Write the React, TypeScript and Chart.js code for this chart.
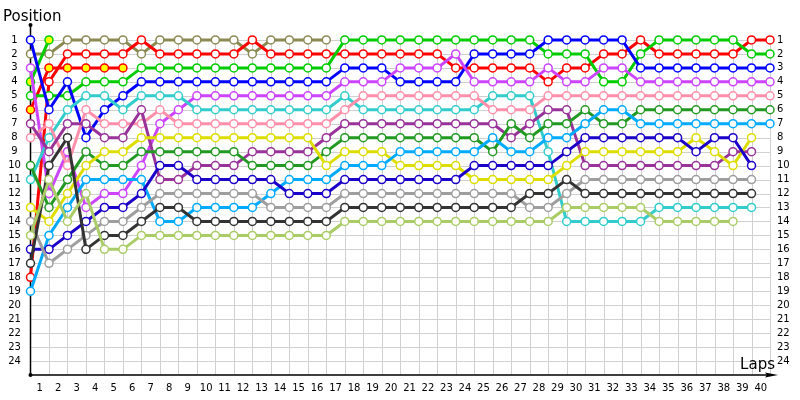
import React, { useEffect, useRef } from "react";
import { Chart, registerables } from "chart.js";

Chart.register(...registerables);

const _ = null;

// lap index 0 = start grid, 1..40 = laps
const laps = [0, 1, 2, 3, 4, 5, 6, 7, 8, 9, 10, 11, 12, 13, 14, 15, 16, 17, 18, 19, 20, 21, 22, 23, 24, 25, 26, 27, 28, 29, 30, 31, 32, 33, 34, 35, 36, 37, 38, 39, 40];
const lapTickLabels = ["1", "2", "3", "4", "5", "6", "7", "8", "9", "10", "11", "12", "13", "14", "15", "16", "17", "18", "19", "20", "21", "22", "23", "24", "25", "26", "27", "28", "29", "30", "31", "32", "33", "34", "35", "36", "37", "38", "39", "40"];
const positionTicks = [1, 2, 3, 4, 5, 6, 7, 8, 9, 10, 11, 12, 13, 14, 15, 16, 17, 18, 19, 20, 21, 22, 23, 24];

// positions per lap (index = lap 0..40)
const olive = [2, 2, 1, 1, 1, 1, 2, 1, 1, 1, 1, 1, 2, 1, 1, 1, 1, _, _, _, _, _, _, _, _, _, _, _, _, _, _, _, _, _, _, _, _, _, _, _, _];
const red = [18, 4, 2, 2, 2, 2, 1, 2, 2, 2, 2, 2, 1, 2, 2, 2, 2, 2, 2, 2, 2, 2, 2, 3, 3, 3, 3, 3, 4, 3, 3, 2, 2, 1, 2, 2, 2, 2, 2, 1, 1];
const redB = [6, 3, 3, 3, 3, 3, _, _, _, _, _, _, _, _, _, _, _, _, _, _, _, _, _, _, _, _, _, _, _, _, _, _, _, _, _, _, _, _, _, _, _];
const greenB = [4, 1, _, _, _, _, _, _, _, _, _, _, _, _, _, _, _, _, _, _, _, _, _, _, _, _, _, _, _, _, _, _, _, _, _, _, _, _, _, _, _];
const green = [5, 5, 5, 4, 4, 4, 3, 3, 3, 3, 3, 3, 3, 3, 3, 3, 3, 1, 1, 1, 1, 1, 1, 1, 1, 1, 1, 1, 2, 2, 2, 4, 4, 2, 1, 1, 1, 1, 1, 2, 2];
const blue = [1, 6, 4, 8, 6, 5, 4, 4, 4, 4, 4, 4, 4, 4, 4, 4, 4, 3, 3, 3, 4, 4, 4, 4, 2, 2, 2, 2, 1, 1, 1, 1, 1, 3, 3, 3, 3, 3, 3, 3, 3];
const violet = [3, 12, 9, 13, 12, 12, 10, 7, 6, 5, 5, 5, 5, 5, 5, 5, 5, 4, 4, 4, 3, 3, 3, 2, 4, 4, 4, 4, 3, 4, 4, 3, 3, 4, 4, 4, 4, 4, 4, 4, 4];
const purple = [7, 9, 7, 7, 8, 8, 6, 11, 11, 10, 10, 10, 9, 9, 9, 9, 8, 7, 7, 7, 7, 7, 7, 7, 7, 7, 8, 7, 6, 6, 10, 10, 10, 10, 10, 10, 10, 10, 9, 9, _];
const pink = [8, 7, 10, 6, 7, 7, 7, 6, 7, 7, 7, 7, 7, 7, 7, 7, 7, 6, 5, 5, 5, 5, 5, 5, 5, 6, 6, 6, 5, 5, 5, 5, 5, 5, 5, 5, 5, 5, 5, 5, 5];
const darkGreen = [10, 13, 11, 9, 10, 10, 9, 9, 9, 9, 9, 9, 10, 10, 10, 10, 9, 8, 8, 8, 8, 8, 8, 8, 8, 9, 7, 8, 7, 7, 6, 7, 7, 6, 6, 6, 6, 6, 6, 6, 6];
const cyan = [11, 8, 6, 5, 5, 6, 5, 5, 5, 6, 6, 6, 6, 6, 6, 6, 6, 5, 6, 6, 6, 6, 6, 6, 6, 5, 5, 5, 9, 14, 14, 14, 14, 14, 13, 13, 13, 13, 13, 13, _];
const yellow = [13, 14, 12, 10, 9, 9, 8, 8, 8, 8, 8, 8, 8, 8, 8, 8, 10, 9, 9, 9, 10, 10, 10, 10, 11, 11, 11, 11, 11, 10, 9, 9, 9, 9, 9, 9, 8, 9, 10, 8, _];
const gray = [14, 17, 16, 15, 14, 14, 13, 12, 12, 12, 12, 12, 12, 13, 13, 13, 13, 12, 12, 12, 12, 12, 12, 12, 12, 12, 12, 13, 13, 12, 11, 11, 11, 11, 11, 11, 11, 11, 11, 11, _];
const lightGreen = [15, 11, 14, 12, 16, 16, 15, 15, 15, 15, 15, 15, 15, 15, 15, 15, 15, 14, 14, 14, 14, 14, 14, 14, 14, 14, 14, 14, 14, 13, 13, 13, 13, 13, 14, 14, 14, 14, 14, _, _];
const navy = [16, 16, 15, 14, 13, 13, 12, 10, 10, 11, 11, 11, 11, 11, 12, 12, 12, 11, 11, 11, 11, 11, 11, 11, 10, 10, 10, 10, 10, 9, 8, 8, 8, 8, 8, 8, 9, 8, 8, 10, _];
const black = [17, 10, 8, 16, 15, 15, 14, 13, 13, 14, 14, 14, 14, 14, 14, 14, 14, 13, 13, 13, 13, 13, 13, 13, 13, 13, 13, 12, 12, 11, 12, 12, 12, 12, 12, 12, 12, 12, 12, 12, _];
const lightBlue = [19, 15, 13, 11, 11, 11, 11, 14, 14, 13, 13, 13, 13, 12, 11, 11, 11, 10, 10, 10, 9, 9, 9, 9, 9, 8, 9, 9, 8, 8, 7, 6, 6, 7, 7, 7, 7, 7, 7, 7, 7];

const seriesList = [
  { name: "lightGreen", data: lightGreen, color: "#aacc66", fill: "#ffffff" },
  { name: "black", data: black, color: "#333333", fill: "#ffffff" },
  { name: "gray", data: gray, color: "#9e9e9e", fill: "#ffffff" },
  { name: "navy", data: navy, color: "#1a00c8", fill: "#ffffff" },
  { name: "lightBlue", data: lightBlue, color: "#00aaff", fill: "#ffffff" },
  { name: "yellow", data: yellow, color: "#dddd00", fill: "#ffffff" },
  { name: "darkGreen", data: darkGreen, color: "#229922", fill: "#ffffff" },
  { name: "purple", data: purple, color: "#993399", fill: "#ffffff" },
  { name: "pink", data: pink, color: "#ff8faa", fill: "#ffffff" },
  { name: "cyan", data: cyan, color: "#33cccc", fill: "#ffffff" },
  { name: "violet", data: violet, color: "#cc44ff", fill: "#ffffff" },
  { name: "blue", data: blue, color: "#0000ff", fill: "#ffffff" },
  { name: "green", data: green, color: "#00cc00", fill: "#ffffff" },
  { name: "greenB", data: greenB, color: "#00cc00", fill: "#ffff00" },
  { name: "redB", data: redB, color: "#ff0000", fill: "#ffff00" },
  { name: "red", data: red, color: "#ff0000", fill: "#ffffff" },
  { name: "olive", data: olive, color: "#8b8a53", fill: "#ffffff" },
];

const FONT = "DejaVu Sans";

const decorPlugin = {
  id: "lapDecor",
  beforeDatasetsDraw(chart: any) {
    const { ctx } = chart;
    const xs = chart.scales.x;
    const ys = chart.scales.y;
    const x0 = xs.getPixelForValue(0);
    const xEnd = xs.getPixelForValue(laps.length - 1);
    const yTop = ys.getPixelForValue(1);
    const yBot = ys.getPixelForValue(25);
    ctx.save();
    ctx.strokeStyle = "#d0d0d0";
    ctx.lineWidth = 1;
    ctx.beginPath();
    positionTicks.forEach((p) => {
      const y = Math.round(ys.getPixelForValue(p)) + 0.5;
      ctx.moveTo(x0, y);
      ctx.lineTo(xEnd, y);
    });
    laps.forEach((l) => {
      if (l === 0) return;
      const x = Math.round(xs.getPixelForValue(l)) + 0.5;
      ctx.moveTo(x, yTop);
      ctx.lineTo(x, yBot);
    });
    ctx.stroke();

    // axes
    ctx.strokeStyle = "#000000";
    ctx.lineWidth = 1.5;
    const yAxisTop = ys.getPixelForValue(0) - 1;
    ctx.beginPath();
    ctx.moveTo(x0, yBot);
    ctx.lineTo(x0, yAxisTop);
    ctx.moveTo(x0, yBot);
    ctx.lineTo(xEnd + 2, yBot);
    ctx.stroke();
    // arrow head on x axis
    ctx.fillStyle = "#000000";
    ctx.beginPath();
    ctx.moveTo(xEnd + 8, yBot);
    ctx.lineTo(xEnd - 5, yBot - 2.5);
    ctx.lineTo(xEnd - 3, yBot);
    ctx.lineTo(xEnd - 5, yBot + 2.5);
    ctx.closePath();
    ctx.fill();
    ctx.beginPath();
    ctx.arc(x0, yAxisTop, 2, 0, Math.PI * 2);
    ctx.fill();
    ctx.beginPath();
    ctx.arc(x0, yBot, 2, 0, Math.PI * 2);
    ctx.fill();
    ctx.restore();
  },
  afterDraw(chart: any) {
    const { ctx } = chart;
    const xs = chart.scales.x;
    const ys = chart.scales.y;
    const xEnd = xs.getPixelForValue(laps.length - 1);
    const yBot = ys.getPixelForValue(25);
    ctx.save();
    ctx.fillStyle = "#000000";
    ctx.font = `10px "${FONT}"`;
    ctx.textBaseline = "middle";
    positionTicks.forEach((p) => {
      const y = ys.getPixelForValue(p);
      ctx.textAlign = "center";
      ctx.fillText(String(p), 14.5, y);
      ctx.textAlign = "left";
      ctx.fillText(String(p), xEnd + 7, y);
    });
    ctx.textAlign = "center";
    lapTickLabels.forEach((lab, i) => {
      const x = xs.getPixelForValue(i + 0.5);
      ctx.fillText(lab, x, yBot + 13.5);
    });
    ctx.font = `15px "${FONT}"`;
    ctx.textBaseline = "alphabetic";
    ctx.textAlign = "left";
    ctx.fillText("Position", 3, 21);
    ctx.textAlign = "right";
    ctx.fillText("Laps", xEnd + 5, yBot - 6);
    ctx.restore();
  },
};

export default function App() {
  const ref = useRef<HTMLCanvasElement | null>(null);
  useEffect(() => {
    document.body.style.margin = "0";
    const canvas = ref.current;
    if (!canvas) return;
    const chart = new Chart(canvas, {
      type: "line",
      data: {
        labels: laps.map(String),
        datasets: seriesList.map((s) => ({
          label: s.name,
          data: s.data,
          borderColor: s.color,
          backgroundColor: s.color,
          borderWidth: 3,
          pointRadius: 4,
          pointBorderWidth: 1.5,
          pointBorderColor: s.color,
          pointBackgroundColor: s.fill,
          pointHoverRadius: 4,
          tension: 0,
          spanGaps: false,
          clip: false as any,
          fill: false,
        })),
      },
      options: {
        animation: false,
        responsive: false,
        devicePixelRatio: 1,
        layout: { padding: { left: 30.5, right: 30, top: 26, bottom: 25 } },
        plugins: { legend: { display: false }, tooltip: { enabled: false } },
        events: [],
        scales: {
          x: { type: "category", display: false, offset: false },
          y: { type: "linear", display: false, min: 0, max: 25, reverse: true },
        },
      },
      plugins: [decorPlugin],
    });
    return () => chart.destroy();
  }, []);
  return (
    <div style={{ width: 800, height: 400 }}>
      <canvas ref={ref} width={800} height={400} />
    </div>
  );
}
